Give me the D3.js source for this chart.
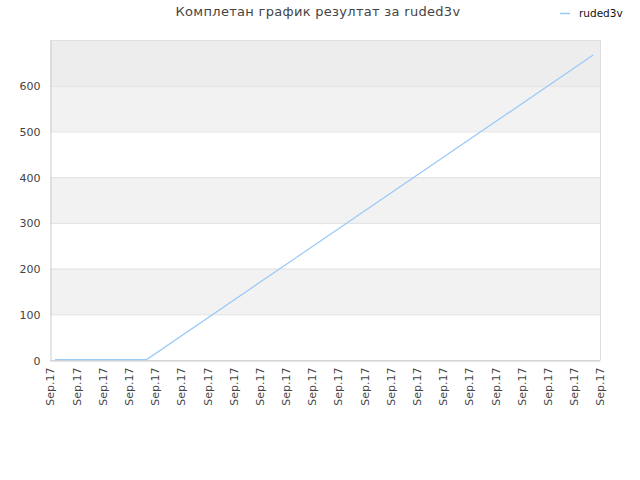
<!DOCTYPE html>
<html>
<head>
<meta charset="utf-8">
<script src="https://cdn.jsdelivr.net/npm/d3@7"></script>
<style>
  body { margin: 0; background: #fff; }
  text { font-family: "DejaVu Sans", sans-serif; }
</style>
</head>
<body>
<div id="chart"></div>
<script>
// chart values
var title = "Комплетан график резултат за ruded3v";
var seriesName = "ruded3v";
var tickLabels = ["Sep.17","Sep.17","Sep.17","Sep.17","Sep.17","Sep.17","Sep.17","Sep.17",
                  "Sep.17","Sep.17","Sep.17","Sep.17","Sep.17","Sep.17","Sep.17","Sep.17",
                  "Sep.17","Sep.17","Sep.17","Sep.17","Sep.17","Sep.17"];
var pointPos = [0.19, 3.69, 20.74];
var pointVal = [1, 1, 667];
var yTicks = [0, 100, 200, 300, 400, 500, 600];

var params = { width: 640, height: 480, left: 50, right: 600, top: 40, bottom: 360 };

var svg = d3.select("#chart").append("svg")
    .attr("width", params.width)
    .attr("height", params.height);

var x = d3.scaleLinear().domain([0, tickLabels.length - 1]).range([params.left, params.right]);
var y = d3.scaleLinear().domain([0, 700]).range([params.bottom, params.top]);

// alternating background bands
var bands = [[100, 200, "#f2f2f2"], [300, 400, "#f2f2f2"], [500, 600, "#f2f2f2"], [600, 700, "#ededed"]];
svg.selectAll(".band")
    .data(bands).enter()
    .append("rect")
        .attr("x", params.left)
        .attr("width", params.right - params.left)
        .attr("y", function(d) { return y(d[1]); })
        .attr("height", function(d) { return y(d[0]) - y(d[1]); })
        .style("fill", function(d) { return d[2]; });

// grid lines
svg.selectAll(".grid")
    .data(yTicks.concat([700])).enter()
    .append("line")
        .attr("x1", params.left).attr("x2", params.right)
        .attr("y1", function(d) { return y(d) + 0.5; })
        .attr("y2", function(d) { return y(d) + 0.5; })
        .style("stroke", "#e0e0e0");

// right border
svg.append("line")
    .attr("x1", params.right + 0.5).attr("x2", params.right + 0.5)
    .attr("y1", params.top).attr("y2", params.bottom)
    .style("stroke", "#dddddd");

// y axis
var y_axis = d3.axisLeft(y).tickValues(yTicks).tickSize(0).tickPadding(10);
var gy = svg.append("g")
    .attr("transform", "translate(" + (params.left + 0.5) + ",0.5)")
    .call(y_axis);
gy.select(".domain").style("stroke", "#cccccc");
gy.selectAll(".tick text")
    .style("font-size", "11px")
    .style("fill", "#444")
    .style("font-family", "DejaVu Sans, sans-serif");

// x axis
var x_axis = d3.axisBottom(x)
    .tickValues(d3.range(tickLabels.length))
    .tickFormat(function(d) { return tickLabels[d]; })
    .tickSize(0);
var gx = svg.append("g")
    .attr("transform", "translate(0," + (params.bottom + 0.5) + ")")
    .call(x_axis);
gx.select(".domain").style("stroke", "#cccccc");
gx.selectAll(".tick text")
    .attr("transform", "rotate(-90)")
    .attr("text-anchor", "end")
    .attr("x", -7)
    .attr("y", 0)
    .attr("dy", "0.35em")
    .style("font-size", "11px")
    .style("fill", "#444")
    .style("font-family", "DejaVu Sans, sans-serif");

// the series line
var line = d3.line()
    .x(function(d) { return x(d[0]); })
    .y(function(d) { return y(d[1]); });

svg.append("path")
    .datum(d3.zip(pointPos, pointVal))
    .attr("d", line)
    .style("fill", "none")
    .style("stroke", "#99c9f7")
    .style("stroke-width", 1.2);

// title
svg.append("text")
    .attr("x", 318)
    .attr("y", 16)
    .attr("text-anchor", "middle")
    .style("font-size", "13px")
    .style("letter-spacing", "0.3px")
    .style("fill", "#444")
    .text(title);

// legend
svg.append("line")
    .attr("x1", 560).attr("x2", 570)
    .attr("y1", 13.5).attr("y2", 13.5)
    .style("stroke", "#99c9f7")
    .style("stroke-width", 1.5);
svg.append("text")
    .attr("x", 579)
    .attr("y", 17)
    .style("font-size", "10.5px")
    .style("fill", "#111")
    .text(seriesName);
</script>
</body>
</html>
